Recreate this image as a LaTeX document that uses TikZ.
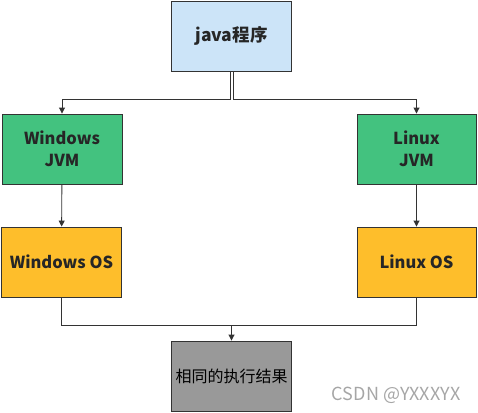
\documentclass[tikz,border=0pt]{standalone}
\usepackage{fontspec}
\setmainfont{Noto Sans CJK SC}
\usetikzlibrary{arrows.meta}

\definecolor{progblue}{HTML}{CCE4F8}
\definecolor{jvmgreen}{HTML}{43C27F}
\definecolor{osyellow}{HTML}{FEBE2B}
\definecolor{resgray}{HTML}{999999}
\definecolor{edgegray}{HTML}{333333}

\tikzset{
    box/.style={draw=edgegray, line width=0.9pt, minimum width=120pt, minimum height=70pt,
        inner sep=0pt, align=center, font=\fontsize{16.5}{22}\selectfont\bfseries, text=black!85},
    link/.style={draw=edgegray, line width=0.9pt},
    >={Triangle[length=6pt,width=6pt]}
}

\begin{document}
\begin{tikzpicture}[x=1pt,y=-1pt]
    \useasboundingbox (0,0) rectangle (478,412);

    % Draw the boxes
    \node[box, fill=progblue, font=\fontsize{17.5}{22}\selectfont\bfseries] (java) at (231.5,36) {java程序};
    \node[box, fill=jvmgreen] (winjvm) at (62,149) {Windows\\JVM};
    \node[box, fill=jvmgreen, minimum width=119pt] (linjvm) at (416.5,149) {Linux\\JVM};
    \node[box, fill=osyellow] (winos) at (61.5,262) {Windows OS};
    \node[box, fill=osyellow, minimum width=119pt] (linos) at (416.5,262) {Linux OS};
    \node[box, fill=resgray, font=\fontsize{16}{20}\selectfont, text=black] (result) at (231.5,376) {相同的执行结果};

    % Draw the split from the program
    \draw[link,->] ([xshift=-0.8pt]java.south) -- ++(0,28) -| (winjvm.north);
    \draw[link,->] ([xshift=1.8pt]java.south) -- ++(0,28) -| (linjvm.north);

    % Draw the JVM to OS arrows
    \draw[link,->] (winjvm) -- (winos);
    \draw[link,->] (linjvm) -- (linos);

    % Draw the merge into the result
    \draw[link] (winos.south) -- ++(0,28) coordinate (merge) -| (linos.south);
    \draw[link,->] (merge -| result.north) -- (result.north);

    % Watermark
    \node[text=black!35, font=\fontsize{18}{20}\selectfont, anchor=east] (mark) at (464,395) {CSDN @YXXXYX};
\end{tikzpicture}
\end{document}
